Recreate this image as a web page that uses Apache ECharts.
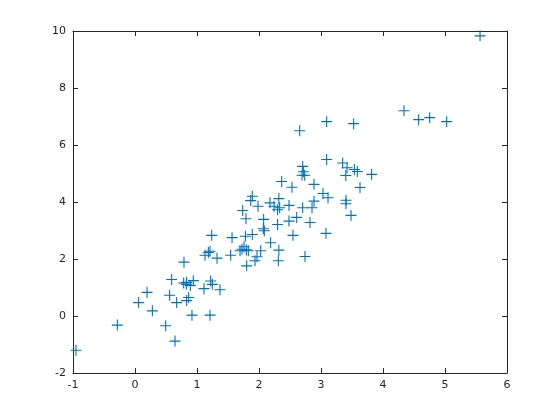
<!DOCTYPE html>
<html>
<head>
<meta charset="utf-8">
<script src="https://cdn.jsdelivr.net/npm/echarts@6/dist/echarts.min.js"></script>
<style>html,body{margin:0;padding:0;background:#fff;}#c{width:560px;height:420px;}</style>
</head>
<body>
<div id="c"></div>
<script>
const xValues = [5.565,4.339,4.575,4.753,5.027,2.656,3.091,3.527,3.091,3.349,3.42,3.538,3.586,3.40,3.817,3.629,3.403,3.403,3.484,3.081,
2.704,2.715,2.694,2.737,2.887,3.032,3.113,2.887,2.704,2.855,2.823,2.742,2.532,2.366,2.484,2.608,2.484,2.548,2.32,2.333,
2.30,2.30,2.32,2.312,2.177,2.242,1.892,1.866,1.984,2.075,2.07,2.086,2.188,2.027,1.968,1.935,1.737,1.79,1.78,1.892,
1.565,1.758,1.726,1.796,1.694,1.828,1.801,1.543,1.237,1.323,1.183,1.21,1.129,0.790,0.591,0.559,0.785,0.833,0.828,0.941,
0.892,0.866,0.833,0.672,0.194,0.059,0.28,-0.285,0.495,0.645,-0.952,0.919,1.21,1.113,1.371,1.22,1.247];
const yValues = [9.83,7.20,6.89,6.96,6.82,6.50,6.82,6.75,5.49,5.37,5.20,5.14,5.07,4.93,4.97,4.51,4.06,3.94,3.53,2.90,
5.25,5.06,4.94,4.94,4.62,4.30,4.15,4.03,3.80,3.80,3.28,2.09,4.52,4.72,3.88,3.46,3.33,2.83,4.12,3.80,
3.73,3.21,2.31,1.94,3.97,3.85,4.20,4.05,3.85,3.39,3.06,2.99,2.57,2.29,2.08,1.94,3.70,3.41,2.80,2.86,
2.75,2.43,2.34,2.32,2.29,2.29,1.76,2.13,2.83,2.03,2.23,2.27,2.13,1.89,1.28,0.73,1.16,1.18,1.11,1.24,
1.07,0.65,0.54,0.47,0.83,0.47,0.18,-0.32,-0.34,-0.88,-1.20,0.03,0.03,0.96,0.92,1.23,1.11];

const xTicks = [-1,0,1,2,3,4,5,6];
const yTicks = [-2,0,2,4,6,8,10];

const points = xValues.map((x, i) => [x, yValues[i]]);
const axisColor = '#262626';
const font = 'DejaVu Sans';

function axisBase(extra) {
  return Object.assign({
    axisLine: {show: true, onZero: false, lineStyle: {color: axisColor, width: 1}},
    axisTick: {show: true, inside: true, length: 5, lineStyle: {color: axisColor}},
    splitLine: {show: false},
    axisLabel: {show: true, color: axisColor, fontFamily: font, fontSize: 11}
  }, extra);
}

const chart = echarts.init(document.getElementById('c'), null, {renderer: 'canvas'});
chart.setOption({
  backgroundColor: '#ffffff',
  animation: false,
  grid: {left: 73, right: 53, top: 31, bottom: 47, containLabel: false},
  xAxis: [
    axisBase({type: 'value', min: xTicks[0], max: xTicks[xTicks.length-1], interval: 1, position: 'bottom',
      axisLabel: {color: axisColor, fontFamily: font, fontSize: 11, margin: 7}}),
    axisBase({type: 'value', min: xTicks[0], max: xTicks[xTicks.length-1], interval: 1, position: 'top',
      axisLabel: {show: false}})
  ],
  yAxis: [
    axisBase({type: 'value', min: yTicks[0], max: yTicks[yTicks.length-1], interval: 2, position: 'left',
      axisLabel: {color: axisColor, fontFamily: font, fontSize: 11, margin: 7}}),
    axisBase({type: 'value', min: yTicks[0], max: yTicks[yTicks.length-1], interval: 2, position: 'right',
      axisLabel: {show: false}})
  ],
  series: [{
    type: 'scatter',
    xAxisIndex: 0, yAxisIndex: 0,
    data: points,
    symbol: 'path://M4.5,0H5.5V4.5H10V5.5H5.5V10H4.5V5.5H0V4.5H4.5Z',
    symbolSize: 11,
    itemStyle: {color: '#0072BD', opacity: 1},
    emphasis: {disabled: true}
  }]
});
</script>
</body>
</html>
